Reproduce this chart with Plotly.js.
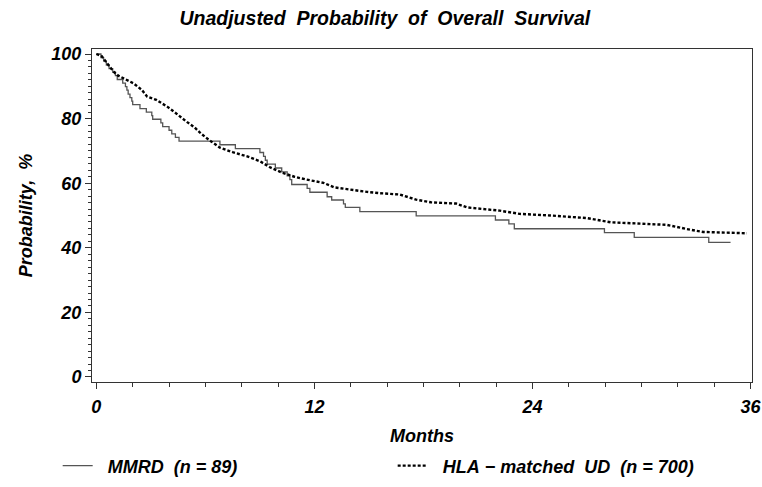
<!DOCTYPE html>
<html>
<head>
<meta charset="utf-8">
<script src="https://cdn.plot.ly/plotly-3.0.1.min.js"></script>
<style>html,body{margin:0;padding:0;background:#fff;}#chart{width:762px;height:487px;}</style>
</head>
<body>
<div id="chart"></div>
<script>
// MMRD (n=89) Kaplan-Meier step curve: months, survival %
const mmrdMonths = [0, 0.25, 0.4, 0.55, 0.7, 0.9, 1.05, 1.15, 1.45, 1.6, 1.68, 1.75, 1.85, 1.95, 2.0, 2.4, 2.75, 3.05, 3.1, 3.55, 3.65, 4.0, 4.15, 4.35, 4.55, 6.8, 7.65, 9.0, 9.2, 9.3, 9.4, 9.85, 10.2, 10.5, 10.65, 10.75, 11.6, 11.75, 12.7, 12.95, 13.6, 13.7, 14.5, 17.6, 21.96, 22.7, 23.0, 27.96, 29.6, 33.7, 34.9];
const mmrdSurv   = [100, 98.9, 97.8, 96.6, 95.5, 94.4, 93.3, 92.1, 91.0, 89.9, 88.8, 87.6, 86.5, 85.4, 84.3, 83.1, 82.0, 80.9, 79.8, 78.7, 77.5, 76.4, 75.3, 74.2, 73.0, 71.9, 70.7, 69.5, 68.3, 67.1, 65.9, 64.7, 63.5, 62.3, 61.1, 59.6, 58.4, 57.2, 55.8, 54.8, 53.6, 52.5, 51.2, 49.9, 48.6, 47.4, 45.9, 44.7, 43.2, 41.7, 41.7];

// HLA-matched UD (n=700)
const udMonths = [0, 0.3, 0.5, 0.7, 0.95, 1.2, 1.45, 1.7, 2.05, 2.5, 2.8, 3.3, 3.9, 4.3, 4.6, 5.0, 5.4, 5.75, 6.2, 6.8, 7.5, 8.3, 9.0, 9.6, 10.2, 10.9, 11.5, 12.5, 13.1, 14.0, 14.9, 15.6, 16.7, 17.6, 18.4, 19.8, 20.4, 22.2, 23.3, 25.0, 27.0, 28.3, 31.4, 32.5, 33.4, 35.8];
const udSurv   = [100, 99.3, 97.8, 96.4, 94.5, 93.3, 92.6, 91.9, 90.9, 88.9, 86.8, 85.8, 83.7, 82.0, 80.6, 78.9, 77.3, 75.4, 73.4, 71.0, 69.6, 68.3, 66.8, 64.8, 63.3, 62.0, 61.2, 60.1, 58.7, 57.9, 57.3, 56.9, 56.5, 54.9, 54.1, 53.7, 52.5, 51.5, 50.5, 50.0, 49.2, 47.9, 47.1, 45.8, 44.9, 44.5];

const xTicks = [0, 12, 24, 36];
const yTicks = [0, 20, 40, 60, 80, 100];
const seriesNames = ['\u00a0\u00a0MMRD\u00a0\u00a0(n\u00a0=\u00a089)', '\u00a0\u00a0HLA\u00a0\u2212\u00a0matched\u00a0\u00a0UD\u00a0\u00a0(n\u00a0=\u00a0700)'];

const FONT = 'Liberation Sans, Arial, Helvetica, sans-serif';
const bi = (size) => ({family: FONT, size: size, color: '#000', weight: 'bold', style: 'italic'});

const traces = [
  {x: mmrdMonths, y: mmrdSurv, name: seriesNames[0], type: 'scatter', mode: 'lines',
   line: {shape: 'hv', color: '#555555', width: 1.3}},
  {x: udMonths, y: udSurv, name: seriesNames[1], type: 'scatter', mode: 'lines',
   line: {shape: 'linear', color: '#000000', width: 2.4, dash: '3px,2px'}}
];

const layout = {
  width: 762, height: 487,
  margin: {l: 92, r: 10, t: 49, b: 105, pad: 0, autoexpand: false},
  paper_bgcolor: '#fff', plot_bgcolor: '#fff',
  showlegend: true,
  title: {text: 'Unadjusted\u00a0\u00a0Probability\u00a0\u00a0of\u00a0\u00a0Overall\u00a0\u00a0Survival', font: bi(19.5),
          x: 0.505, xref: 'container', xanchor: 'center', y: 0.963, yref: 'container', yanchor: 'middle'},
  xaxis: {
    range: [-0.24, 36.08], tickvals: xTicks, ticktext: xTicks.map(String),
    ticks: 'outside', ticklen: 6, tickwidth: 1, tickcolor: '#333',
    showline: true, linecolor: '#333', linewidth: 1, mirror: true, automargin: false,
    showgrid: false, zeroline: false, tickfont: bi(18), ticklabelstandoff: 2,
    minor: {dtick: 2, tick0: 0, ticks: 'outside', ticklen: 4, tickwidth: 1, tickcolor: '#333', showgrid: false},
    title: {text: 'Months', font: bi(18), standoff: 13}
  },
  yaxis: {
    range: [-1.55, 101.55], tickvals: yTicks, ticktext: yTicks.map(String),
    ticks: 'outside', ticklen: 6, tickwidth: 1, tickcolor: '#333',
    showline: true, linecolor: '#333', linewidth: 1, mirror: true, automargin: false,
    showgrid: false, zeroline: false, tickfont: bi(18),
    minor: {dtick: 2, tick0: 0, ticks: 'outside', ticklen: 3, tickwidth: 1, tickcolor: '#333', showgrid: false},
    title: {text: 'Probability,\u00a0\u00a0%', font: bi(18), standoff: 14}
  },
  legend: {orientation: 'h', x: -0.052, xanchor: 'left', y: -0.252, yanchor: 'middle',
           font: bi(18), entrywidth: 290, entrywidthmode: 'pixels', bgcolor: 'rgba(0,0,0,0)', traceorder: 'normal'}
};

Plotly.newPlot('chart', traces, layout, {displayModeBar: false, staticPlot: true});
</script>
</body>
</html>
